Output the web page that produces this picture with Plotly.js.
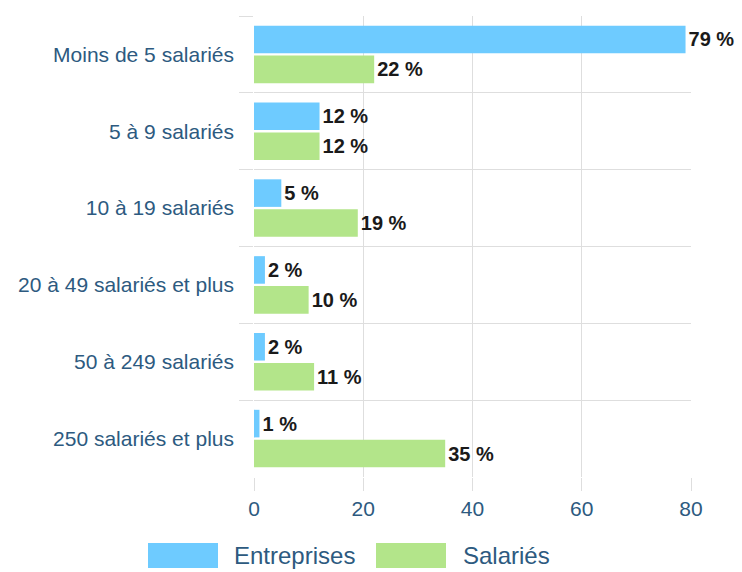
<!DOCTYPE html>
<html><head><meta charset="utf-8">
<script src="https://cdn.plot.ly/plotly-3.0.1.min.js"></script>
<style>html,body{margin:0;padding:0;background:#fff}#chart{width:742px;height:572px}</style>
</head><body><div id="chart"></div>
<script>
const categories = ["Moins de 5 salariés","5 à 9 salariés","10 à 19 salariés","20 à 49 salariés et plus","50 à 249 salariés","250 salariés et plus"];
const entreprises = [79, 12, 5, 2, 2, 1];
const salaries = [22, 12, 19, 10, 11, 35];
const seriesNames = ["Entreprises", "Salariés"];
const seriesColors = ['#6ecbff', '#b3e58a'];
const xTicks = [0, 20, 40, 60, 80];

const FONT = '"Liberation Sans", Arial, sans-serif';
const TXT = '#2d5a80';
const common = {type:'bar', orientation:'h', y:categories, textposition:'outside', cliponaxis:false, showlegend:false,
  texttemplate:'%{x} %', textfont:{family:FONT, size:20, color:'#1a1a1a', weight:'bold'}, hoverinfo:'none'};
const traces = [
  Object.assign({}, common, {x:entreprises, name:seriesNames[0], marker:{color:seriesColors[0]}}),
  Object.assign({}, common, {x:salaries, name:seriesNames[1], marker:{color:seriesColors[1]}})
];

// custom legend (large swatches like the reference)
const W = 742, H = 572;
const legendItems = [
  {x0:148, x1:218, tx:232},
  {x0:376, x1:446, tx:461}
];
const shapes = [], annotations = [];
legendItems.forEach((it, i) => {
  shapes.push({type:'rect', xref:'paper', yref:'paper', layer:'above',
    x0:(it.x0-254)/(691-254), x1:(it.x1-254)/(691-254),
    y0:-(543-477)/(477-16), y1:-(568-477)/(477-16),
    fillcolor:seriesColors[i], line:{width:0}});
  annotations.push({xref:'paper', yref:'paper', x:(it.tx-254)/(691-254), y:-(555-477)/(477-16),
    xanchor:'left', yanchor:'middle', showarrow:false, text:seriesNames[i],
    font:{family:FONT, size:24, color:TXT}});
});

const layout = {
  width:W, height:H,
  margin:{l:254, r:51, t:16, b:95},
  paper_bgcolor:'#fff', plot_bgcolor:'#fff',
  font:{family:FONT, color:TXT},
  barmode:'group', bargap:0.22, bargroupgap:0.08,
  xaxis:{range:[0,80], tickvals:xTicks, ticktext:xTicks.map(String), showgrid:true, gridcolor:'#dedede', zeroline:false,
    ticks:'outside', ticklen:13, tickcolor:'#dedede', tickfont:{size:21, color:TXT}, showline:false, automargin:false},
  yaxis:{autorange:'reversed', tickson:'boundaries', showgrid:true, gridcolor:'#dedede', ticks:'outside', ticklen:14,
    tickcolor:'#dedede', tickfont:{size:21, color:TXT}, showline:false, ticklabelstandoff:19, automargin:false},
  showlegend:false,
  shapes:shapes, annotations:annotations
};
Plotly.newPlot('chart', traces, layout, {displayModeBar:false, staticPlot:true});
</script></body></html>
